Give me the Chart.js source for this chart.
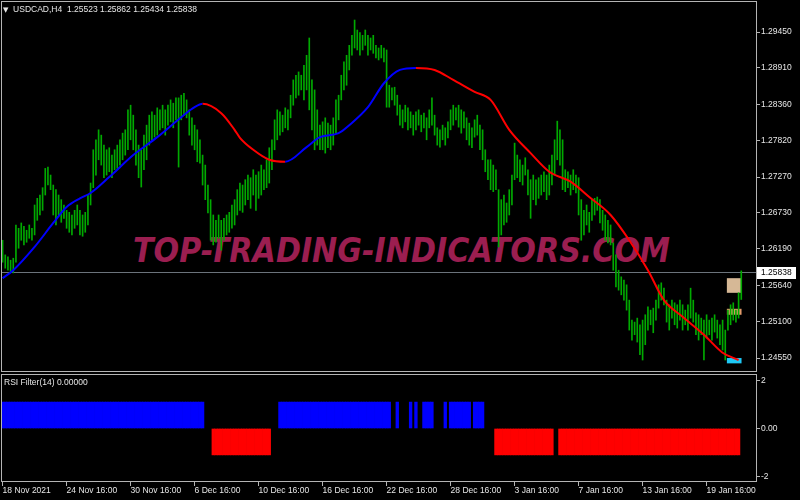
<!DOCTYPE html>
<html>
<head>
<meta charset="utf-8">
<script src="https://cdn.jsdelivr.net/npm/chart.js@4.4.1/dist/chart.umd.min.js"></script>
<style>
    body { margin: 0; background: #000; width: 800px; height: 500px; overflow: hidden; position: relative; }
    canvas, svg { position: absolute; left: 0; }
    .lbl { position: absolute; color: #e6e6e6; font: 8.5px 'Liberation Sans', sans-serif; line-height: 10px; white-space: pre; }
</style>
</head>
<body>
<svg width="800" height="500" style="top:0">
    <text x="133" y="262" textLength="537" lengthAdjust="spacingAndGlyphs"
          font-family="DejaVu Sans" font-weight="bold" font-style="italic" font-size="34" fill="#9b1e50">TOP-TRADING-INDICATORS.COM</text>
</svg>
<canvas id="priceChart" width="800" height="373" style="top:0"></canvas>
<canvas id="rsiChart" width="800" height="129" style="top:371px"></canvas>
<div class="lbl" style="left:3px;top:4px"><span style="font:7px 'DejaVu Sans'">▼</span>  USDCAD,H4  1.25523 1.25862 1.25434 1.25838</div>
<div class="lbl" style="left:4px;top:377px">RSI Filter(14) 0.00000</div>
<script>
// H4 bars, one entry per bar (left to right)
const barHigh = [
    1.2632, 1.2610, 1.2607, 1.2602, 1.2605, 1.2655, 1.2650, 1.2658, 1.2653, 1.2647,
    1.2655, 1.2650, 1.2685, 1.2695, 1.2700, 1.2711, 1.2740, 1.2742, 1.2730, 1.2715,
    1.2708, 1.2700, 1.2693, 1.2685, 1.2677, 1.2674, 1.2670, 1.2677, 1.2685, 1.2677,
    1.2670, 1.2674, 1.2700, 1.2718, 1.2768, 1.2783, 1.2798, 1.2790, 1.2775, 1.2768,
    1.2771, 1.2760, 1.2768, 1.2775, 1.2783, 1.2793, 1.2798, 1.2828, 1.2835, 1.2820,
    1.2798, 1.2775, 1.2768, 1.2790, 1.2805, 1.2820, 1.2825, 1.2820, 1.2831, 1.2828,
    1.2835, 1.2828, 1.2835, 1.2843, 1.2838, 1.2846, 1.2846, 1.2850, 1.2853, 1.2843,
    1.2828, 1.2816, 1.2805, 1.2798, 1.2783, 1.2760, 1.2745, 1.2715, 1.2693, 1.2670,
    1.2662, 1.2670, 1.2662, 1.2665, 1.2670, 1.2674, 1.2685, 1.2693, 1.2708, 1.2718,
    1.2715, 1.2723, 1.2730, 1.2726, 1.2738, 1.2730, 1.2735, 1.2745, 1.2738, 1.2753,
    1.2771, 1.2783, 1.2813, 1.2828, 1.2825, 1.2820, 1.2831, 1.2828, 1.2850, 1.2873,
    1.2880, 1.2885, 1.2880, 1.2895, 1.2910, 1.2936, 1.2873, 1.2858, 1.2828, 1.2805,
    1.2810, 1.2816, 1.2808, 1.2805, 1.2816, 1.2843, 1.2850, 1.2880, 1.2900, 1.2910,
    1.2925, 1.2940, 1.2963, 1.2948, 1.2944, 1.2940, 1.2948, 1.2940, 1.2936, 1.2940,
    1.2925, 1.2921, 1.2925, 1.2921, 1.2918, 1.2865, 1.2861, 1.2862, 1.2850, 1.2835,
    1.2828, 1.2835, 1.2831, 1.2825, 1.2820, 1.2825, 1.2828, 1.2820, 1.2823, 1.2816,
    1.2828, 1.2846, 1.2820, 1.2801, 1.2798, 1.2805, 1.2801, 1.2810, 1.2828, 1.2835,
    1.2831, 1.2835, 1.2828, 1.2825, 1.2816, 1.2808, 1.2801, 1.2813, 1.2820, 1.2805,
    1.2798, 1.2768, 1.2753, 1.2753, 1.2745, 1.2738, 1.2708, 1.2693, 1.2700, 1.2688,
    1.2708, 1.2730, 1.2778, 1.2760, 1.2753, 1.2745, 1.2756, 1.2738, 1.2723, 1.2730,
    1.2723, 1.2726, 1.2730, 1.2735, 1.2730, 1.2745, 1.2760, 1.2783, 1.2811, 1.2798,
    1.2783, 1.2738, 1.2735, 1.2730, 1.2738, 1.2730, 1.2726, 1.2693, 1.2677, 1.2685,
    1.2674, 1.2693, 1.2695, 1.2697, 1.2693, 1.2677, 1.2670, 1.2662, 1.2655, 1.2628,
    1.2610, 1.2587, 1.2577, 1.2572, 1.2565, 1.2542, 1.2512, 1.2509, 1.2515, 1.2505,
    1.2512, 1.2520, 1.2532, 1.2527, 1.2530, 1.2542, 1.2565, 1.2568, 1.2560, 1.2542,
    1.2535, 1.2542, 1.2538, 1.2535, 1.2542, 1.2535, 1.2527, 1.2535, 1.2560, 1.2542,
    1.2523, 1.2520, 1.2515, 1.2512, 1.2520, 1.2512, 1.2515, 1.2520, 1.2512, 1.2505,
    1.2512, 1.2497, 1.2527, 1.2535, 1.2538, 1.2527, 1.2553, 1.2586
];
const barLow = [
    1.2599, 1.2590, 1.2587, 1.2584, 1.2583, 1.2599, 1.2620, 1.2632, 1.2625, 1.2629,
    1.2635, 1.2632, 1.2640, 1.2662, 1.2670, 1.2677, 1.2700, 1.2715, 1.2708, 1.2670,
    1.2655, 1.2670, 1.2659, 1.2665, 1.2650, 1.2644, 1.2640, 1.2650, 1.2655, 1.2640,
    1.2638, 1.2644, 1.2655, 1.2685, 1.2711, 1.2730, 1.2753, 1.2745, 1.2726, 1.2730,
    1.2735, 1.2726, 1.2738, 1.2740, 1.2745, 1.2753, 1.2760, 1.2768, 1.2783, 1.2768,
    1.2745, 1.2726, 1.2712, 1.2738, 1.2753, 1.2775, 1.2783, 1.2787, 1.2790, 1.2798,
    1.2801, 1.2790, 1.2805, 1.2810, 1.2801, 1.2813, 1.2742, 1.2813, 1.2820, 1.2816,
    1.2790, 1.2775, 1.2768, 1.2750, 1.2748, 1.2715, 1.2693, 1.2673, 1.2632, 1.2625,
    1.2629, 1.2635, 1.2617, 1.2632, 1.2640, 1.2644, 1.2650, 1.2655, 1.2670, 1.2677,
    1.2674, 1.2685, 1.2693, 1.2680, 1.2700, 1.2677, 1.2695, 1.2700, 1.2708, 1.2711,
    1.2718, 1.2738, 1.2768, 1.2783, 1.2790, 1.2795, 1.2801, 1.2798, 1.2816, 1.2835,
    1.2846, 1.2850, 1.2858, 1.2843, 1.2858, 1.2828, 1.2798, 1.2768, 1.2775, 1.2768,
    1.2768, 1.2763, 1.2771, 1.2768, 1.2775, 1.2793, 1.2813, 1.2843, 1.2858, 1.2865,
    1.2888, 1.2910, 1.2921, 1.2918, 1.2910, 1.2918, 1.2925, 1.2910, 1.2918, 1.2913,
    1.2906, 1.2903, 1.2906, 1.2900, 1.2832, 1.2832, 1.2843, 1.2835, 1.2820, 1.2805,
    1.2801, 1.2810, 1.2798, 1.2801, 1.2790, 1.2798, 1.2805, 1.2795, 1.2801, 1.2783,
    1.2801, 1.2805, 1.2790, 1.2775, 1.2772, 1.2783, 1.2775, 1.2786, 1.2798, 1.2805,
    1.2813, 1.2802, 1.2793, 1.2801, 1.2783, 1.2775, 1.2771, 1.2787, 1.2790, 1.2768,
    1.2753, 1.2735, 1.2723, 1.2708, 1.2705, 1.2708, 1.2622, 1.2640, 1.2655, 1.2659,
    1.2670, 1.2685, 1.2723, 1.2726, 1.2720, 1.2715, 1.2730, 1.2700, 1.2665, 1.2693,
    1.2685, 1.2695, 1.2700, 1.2705, 1.2693, 1.2700, 1.2715, 1.2730, 1.2753, 1.2745,
    1.2708, 1.2705, 1.2711, 1.2700, 1.2708, 1.2703, 1.2670, 1.2632, 1.2640, 1.2655,
    1.2644, 1.2662, 1.2670, 1.2677, 1.2658, 1.2647, 1.2632, 1.2628, 1.2625, 1.2587,
    1.2562, 1.2557, 1.2550, 1.2542, 1.2527, 1.2497, 1.2482, 1.2490, 1.2479, 1.2460,
    1.2452, 1.2475, 1.2497, 1.2505, 1.2493, 1.2512, 1.2530, 1.2542, 1.2535, 1.2509,
    1.2497, 1.2515, 1.2505, 1.2500, 1.2512, 1.2497, 1.2505, 1.2497, 1.2515, 1.2509,
    1.2490, 1.2482, 1.2490, 1.2452, 1.2485, 1.2490, 1.2482, 1.2494, 1.2485, 1.2475,
    1.2467, 1.2452, 1.2497, 1.2505, 1.2512, 1.2509, 1.2515, 1.2543
];

// moving average read at these bars
const maBar = [0, 4, 12, 19, 24, 29, 33, 40, 49, 58, 67, 72, 75, 82, 87, 89, 94, 100, 106, 114,
    119, 126, 130, 137, 143, 149, 155, 162, 169, 177, 183, 190, 198, 205, 213, 220, 228, 235, 242, 248,
    255, 263, 270, 276];
const maValue = [1.2575, 1.2587, 1.2622, 1.2658, 1.2682, 1.2695, 1.2703, 1.2727, 1.2760, 1.2787,
    1.2817, 1.2832, 1.2837, 1.2823, 1.2798, 1.2786, 1.2768, 1.2753, 1.2750, 1.2772,
    1.2787, 1.2793, 1.2805, 1.2832, 1.2868, 1.2888, 1.2891, 1.2888, 1.2873, 1.2855,
    1.2843, 1.2798, 1.2763, 1.2735, 1.2720, 1.2697, 1.2670, 1.2632, 1.2587, 1.2542,
    1.2517, 1.2490, 1.2463, 1.2452];

// RSI filter runs: first bar, last bar, value
const rsiFrom = [0, 79, 104, 145, 148, 153, 155, 158, 166, 168, 177, 185, 209];
const rsiTo = [75, 100, 144, 145, 148, 153, 155, 161, 166, 175, 180, 206, 276];
const rsiValue = [1.1, -1.1, 1.1, 1.1, 1.1, 1.1, 1.1, 1.1, 1.1, 1.1, 1.1, -1.1, -1.1];

const priceTicks = [1.29450, 1.28910, 1.28360, 1.27820, 1.27270, 1.26730, 1.26190, 1.25640, 1.25100, 1.24550];
const rsiTicks = [2, 0, -2];
const dateTickBar = [0, 24, 48, 72, 96, 120, 144, 168, 192, 216, 240, 264];
const dateLabels = ['18 Nov 2021', '24 Nov 16:00', '30 Nov 16:00', '6 Dec 16:00', '10 Dec 16:00', '16 Dec 16:00',
    '22 Dec 16:00', '28 Dec 16:00', '3 Jan 16:00', '7 Jan 16:00', '13 Jan 16:00', '19 Jan 16:00'];

const bidPrice = 1.25838;
const boxTop = [1.2575, 1.2529, 1.2455];
const boxBottom = [1.2553, 1.2520, 1.2447];

const axisFont = { family: 'Liberation Sans', size: 8.5 };
const textColor = '#e6e6e6';
const frameColor = '#b4b4b4';
const xMin = -0.6;
const xMax = 282.9;

// keep the axes from reserving extra room for half labels
const fitRight = s => { s.width = 43; s.paddingTop = 0; s.paddingBottom = 0; };
const fitBottom = s => { s.height = 18; s.paddingLeft = 0; s.paddingRight = 0; };

let frame = {
    id: 'frame',
    afterDraw(chart) {
        const { ctx, chartArea: a } = chart;
        ctx.save();
        ctx.strokeStyle = frameColor;
        ctx.lineWidth = 1;
        ctx.strokeRect(a.left + 0.5, a.top + 0.5, a.right - a.left - 1, a.bottom - a.top - 1);
        ctx.restore();
    }
};

let priceMarks = {
    id: 'priceMarks',
    beforeDatasetsDraw(chart) {
        const { ctx, chartArea: a, scales } = chart;
        const colors = ['#d6b896', '#e39a6a', '#1ec8f5'];
        ctx.save();
        const x0 = scales.x.getPixelForValue(271.6);
        const x1 = scales.x.getPixelForValue(277.1);
        boxTop.forEach((top, i) => {
            const y0 = scales.y.getPixelForValue(top);
            const y1 = scales.y.getPixelForValue(boxBottom[i]);
            ctx.fillStyle = colors[i];
            ctx.fillRect(x0, y0, x1 - x0, y1 - y0);
        });
        const by = Math.round(scales.y.getPixelForValue(bidPrice)) + 0.5;
        ctx.strokeStyle = '#6b737b';
        ctx.beginPath();
        ctx.moveTo(a.left, by);
        ctx.lineTo(a.right, by);
        ctx.stroke();
        ctx.restore();
    },
    afterDraw(chart) {
        const { ctx, chartArea: a, scales } = chart;
        const by = Math.round(scales.y.getPixelForValue(bidPrice));
        ctx.save();
        ctx.fillStyle = '#ffffff';
        ctx.fillRect(a.right, by - 5, 39, 12);
        ctx.fillStyle = '#000000';
        ctx.font = '8.5px "Liberation Sans"';
        ctx.textBaseline = 'middle';
        ctx.fillText(bidPrice.toFixed(5), a.right + 4, by + 1);
        ctx.restore();
    }
};

let barData = barHigh.map((h, i) => ({ x: i, y: [barLow[i], h] }));
let maData = maBar.map((b, i) => ({ x: b, y: maValue[i] }));

let rsiUp = [];
let rsiDown = [];
rsiFrom.forEach((start, r) => {
    for (let i = start; i <= rsiTo[r]; i++) {
        (rsiValue[r] > 0 ? rsiUp : rsiDown).push({ x: i, y: rsiValue[r] });
    }
});

let config = {
    type: 'bar',
    data: {
        datasets: [{
            type: 'line',
            data: maData,
            borderColor: '#0000ff',
            borderWidth: 2,
            pointRadius: 0,
            tension: 0.4,
            cubicInterpolationMode: 'monotone',
            segment: {
                borderColor: c => c.p1.parsed.y >= c.p0.parsed.y ? '#0000ff' : '#ff0000'
            }
        }, {
            data: barData,
            backgroundColor: '#00aa00',
            barThickness: 1,
            borderWidth: 0
        }]
    },
    options: {
        responsive: false,
        animation: false,
        layout: { padding: { left: 1, top: 1, right: 0, bottom: 1 } },
        plugins: { legend: { display: false }, tooltip: { enabled: false } },
        scales: {
            x: { type: 'linear', min: xMin, max: xMax, offset: false, display: false },
            y: {
                position: 'right',
                min: 1.24340,
                max: 1.29916,
                afterFit: fitRight,
                afterBuildTicks: s => { s.ticks = priceTicks.map(v => ({ value: v })); },
                border: { display: false },
                grid: { drawOnChartArea: false, tickLength: 3, color: frameColor },
                ticks: { color: textColor, font: axisFont, padding: 1, callback: v => v.toFixed(5) }
            }
        }
    },
    plugins: [priceMarks, frame]
};

let config2 = {
    type: 'bar',
    data: {
        datasets: [{
            data: rsiUp,
            backgroundColor: '#0000ff',
            grouped: false,
            barPercentage: 1,
            categoryPercentage: 1,
            borderWidth: 0
        }, {
            data: rsiDown,
            backgroundColor: '#ff0000',
            grouped: false,
            barPercentage: 1,
            categoryPercentage: 1,
            borderWidth: 0
        }]
    },
    options: {
        responsive: false,
        animation: false,
        layout: { padding: { left: 1, top: 3, right: 0, bottom: 0 } },
        plugins: { legend: { display: false }, tooltip: { enabled: false } },
        scales: {
            x: {
                type: 'linear',
                min: xMin,
                max: xMax,
                offset: false,
                afterFit: fitBottom,
                afterBuildTicks: s => { s.ticks = dateTickBar.map(v => ({ value: v })); },
                border: { display: false },
                grid: { drawOnChartArea: false, offset: false, tickLength: 4, color: frameColor },
                ticks: {
                    color: textColor,
                    font: axisFont,
                    padding: 0,
                    align: 'start',
                    maxRotation: 0,
                    autoSkip: false,
                    callback: (v, i) => dateLabels[i]
                }
            },
            y: {
                position: 'right',
                min: -2.23,
                max: 2.27,
                afterFit: fitRight,
                afterBuildTicks: s => { s.ticks = rsiTicks.map(v => ({ value: v })); },
                border: { display: false },
                grid: { drawOnChartArea: false, tickLength: 3, color: frameColor },
                ticks: { color: textColor, font: axisFont, padding: 1, callback: v => v === 0 ? '0.00' : String(v) }
            }
        }
    },
    plugins: [frame]
};

let priceChart = new Chart(
    document.getElementById('priceChart'),
    config,
);

let rsiChart = new Chart(
    document.getElementById('rsiChart'),
    config2,
);
</script>
</body>
</html>
